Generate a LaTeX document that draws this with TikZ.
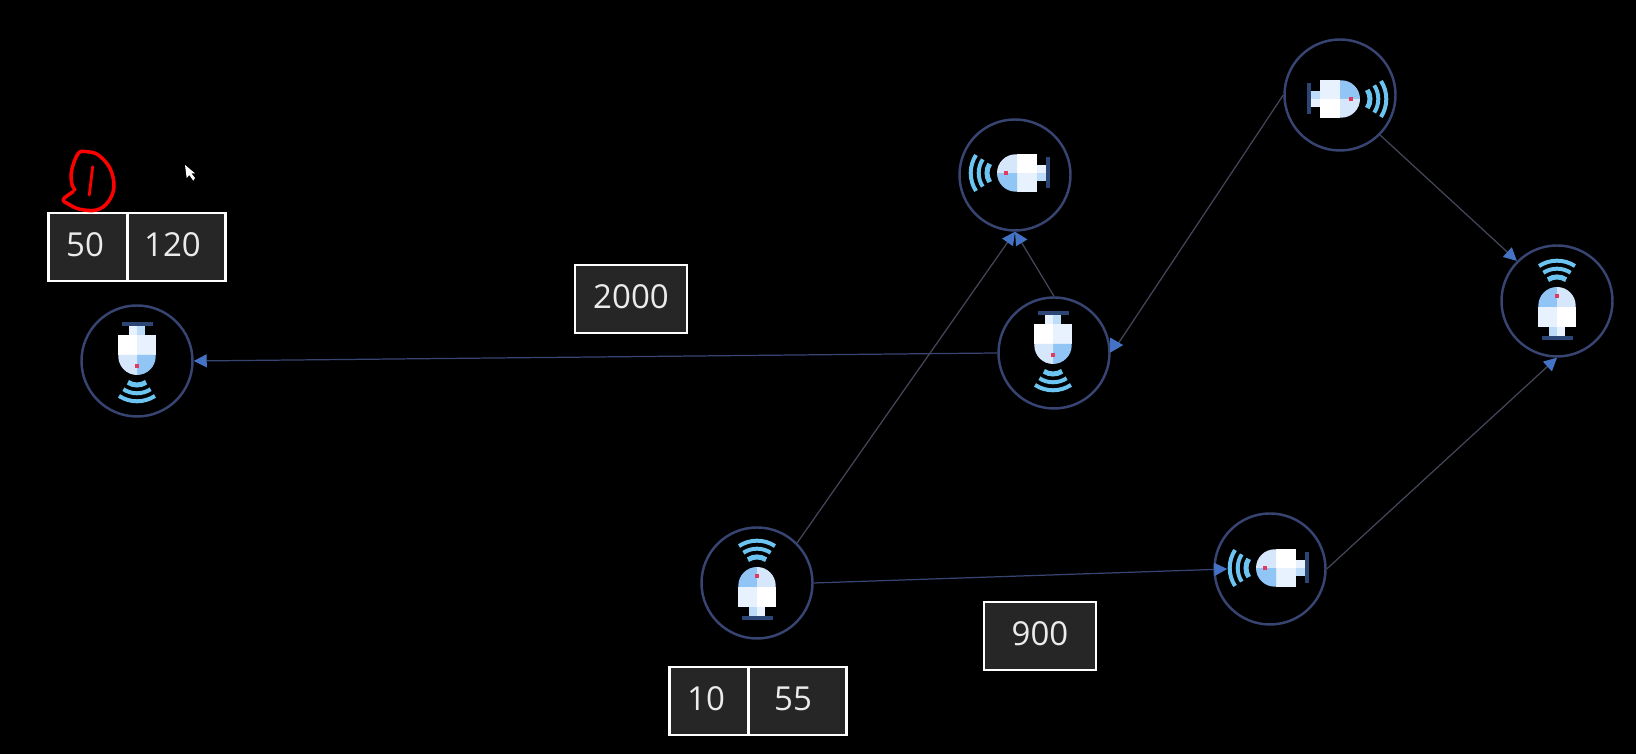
\documentclass[tikz,border=0pt]{standalone}
\usepackage{fontspec}
\setmainfont{Open Sans}
\usetikzlibrary{arrows.meta}
\definecolor{ringblue}{HTML}{384472}
\definecolor{tipblue}{HTML}{4472C4}
\definecolor{linkgray}{HTML}{44475A}
\definecolor{boxgray}{HTML}{262626}
\definecolor{wavecyan}{HTML}{6CC5F0}
\definecolor{bodysky}{HTML}{90C5F5}
\definecolor{bodypale}{HTML}{D6E6FB}
\definecolor{bodyice}{HTML}{E8F1FE}
\definecolor{basedark}{HTML}{2B4675}
\definecolor{dotred}{HTML}{E23A5E}
\tikzset{
    device/.style={circle,draw=ringblue,line width=0.7pt,minimum size=1.11cm,inner sep=0pt},
    wire/.style={draw=linkgray,line width=0.35pt},
    link/.style={wire,-{Triangle[length=0.13cm,width=0.13cm,color=tipblue]}},
    valuebox/.style={draw=white,fill=boxgray,line width=0.7pt,text=white!92!black,minimum height=0.68cm,inner sep=0pt,
        text height=0.28cm,text depth=0.08cm,font=\fontsize{9.4}{12}\selectfont},
    sensorpic/.pic={
        \fill[bodyice] (-0.187,-0.26) rectangle (0,-0.06);
        \fill[white] (0,-0.26) rectangle (0.187,-0.06);
        \fill[bodysky] (-0.187,-0.06) -- (-0.187,-0.047) arc (180:90:0.187) -- (0,-0.06) -- cycle;
        \fill[bodypale] (0.187,-0.06) -- (0.187,-0.047) arc (0:90:0.187) -- (0,-0.06) -- cycle;
        \fill[bodysky!60!white] (-0.08,-0.35) rectangle (0,-0.26);
        \fill[bodyice] (0,-0.35) rectangle (0.08,-0.26);
        \fill[basedark] (-0.155,-0.39) rectangle (0.155,-0.35);
        \fill[dotred] (-0.017,0.033) rectangle (0.017,0.067);
        \foreach \r/\w in {0.33/0.04, 0.25/0.04, 0.167/0.05}
            \draw[wavecyan,line width=\w cm] (57:\r) ++(0,0.073) arc (57:123:\r);
    }
}
\begin{document}
\begin{tikzpicture}
    \fill[black] (0,0) rectangle (16.36,7.54);

    \foreach \name/\x/\y/\rot/\dx/\dy in {devleft/1.37/3.93/180/0/0, devtop/10.15/5.79/90/-0.04/0.02,
        devmid/10.54/4.01/180/-0.01/0.03, devupper/13.40/6.59/-90/0.06/-0.04, devright/15.57/4.53/0/0/0,
        devbot/7.57/1.71/0/0/0.02, devlow/12.70/1.85/90/0/0.01}
    {
        \node[device] (\name) at (\x,\y) {};
        \pic[rotate=\rot] at ([xshift=\dx cm,yshift=\dy cm]\name.center) {sensorpic};
    }

    \draw[link,draw=ringblue] (devmid.west) -- (devleft.east);
    \draw[link] (devmid.north) -- (devtop.south);
    \draw[link] (devbot.45) -- (devtop.south);
    \draw[link,draw=ringblue] (devbot.east) -- ([xshift=0.14cm]devlow.west);
    \draw[link] (devlow.east) -- (devright.south);
    \draw[link] (devupper.-45) -- (devright.135);
    \draw[wire] (devupper.west) -- ([xshift=0.07cm]devmid.8);
    \fill[tipblue] ([yshift=0.075cm]devmid.8) -- ([xshift=0.13cm]devmid.8) -- ([yshift=-0.075cm]devmid.8) -- cycle;

    \node[valuebox,minimum width=0.79cm] (leftmin) at (0.88,5.07) {\hspace*{-0.06cm}50};
    \node[valuebox,minimum width=0.98cm] (leftmax) at (1.765,5.07) {\hspace*{-0.08cm}120};
    \node[valuebox,minimum width=0.79cm] (botmin) at (7.09,0.53) {\hspace*{-0.06cm}10};
    \node[valuebox,minimum width=0.98cm] (botmax) at (7.975,0.53) {\hspace*{-0.09cm}55};
    \node[valuebox,minimum width=1.12cm] (farbox) at (6.31,4.55) {2000};
    \node[valuebox,minimum width=1.12cm] (nearbox) at (10.40,1.18) {900};

    % red scribble
    \draw[red,line width=1pt,line cap=round,line join=round] plot[smooth,tension=0.6] coordinates {
        (0.733,5.623) (0.633,5.547) (0.683,5.50) (0.80,5.447) (0.967,5.44) (1.083,5.523) (1.14,5.673)
        (1.10,5.857) (0.983,5.99) (0.867,6.023) (0.783,6.007) (0.717,5.84) (0.717,5.707) (0.75,5.64)};
    \draw[red,line width=0.8pt,line cap=round] (0.927,5.873) -- (0.893,5.59);

    % mouse pointer
    \fill[white] (1.85,5.89) -- (1.867,5.76) -- (1.893,5.79) -- (1.933,5.733) -- (1.95,5.76) -- (1.915,5.805) -- (1.95,5.807) -- cycle;
\end{tikzpicture}
\end{document}
